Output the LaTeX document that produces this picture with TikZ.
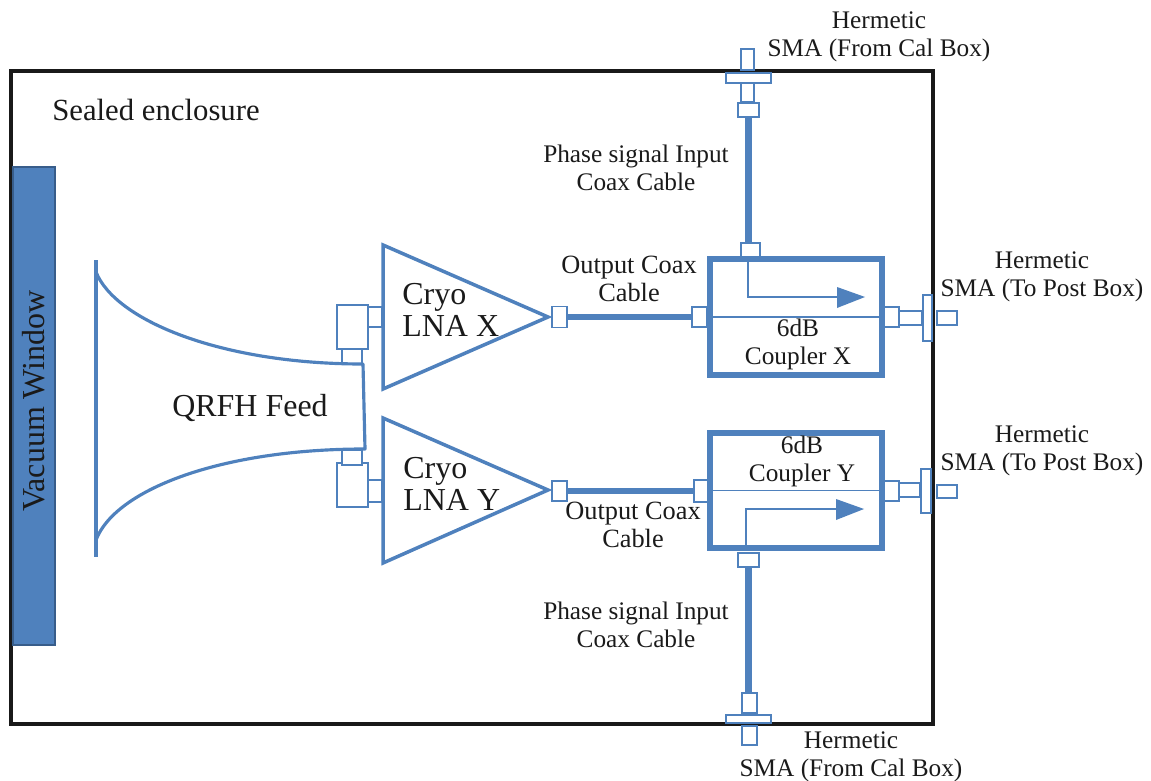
\documentclass[tikz,border=0pt]{standalone}
\usepackage{fontspec}
\setmainfont{Liberation Serif}
\definecolor{hornblue}{HTML}{4F81BD}
\definecolor{winedge}{HTML}{385D8A}
\definecolor{inktext}{HTML}{1A1A1A}
\tikzset{
  port/.style 2 args={draw=hornblue, line width=1.1pt, fill=white, inner sep=0pt,
    minimum width=#1*0.02cm, minimum height=#2*0.02cm},
  coax/.style={draw=hornblue, line width=3.9pt},
  small/.style={font=\fontsize{14.4}{15.9}\selectfont, text=inktext, align=center, inner sep=0pt},
  big/.style={font=\fontsize{18.2}{18.2}\selectfont, text=inktext, align=left, inner sep=0pt},
  coupler/.style={draw=hornblue, line width=3.2pt, fill=white, inner sep=0pt,
    minimum width=172*0.02cm},
  thin/.style={draw=hornblue, line width=1.1pt},
}
\begin{document}
\begin{tikzpicture}[x=0.02cm, y=-0.02cm]
  \useasboundingbox (0,0) rectangle (1151,780);
  % enclosure and window
  \draw[line width=2pt, black!90] (11,71) rectangle (933,724);
  \draw[draw=winedge, fill=hornblue, line width=0.6pt] (13,167) rectangle (55,645);
  \node[rotate=90, big] (window) at (34,401) {Vacuum Window};
  \node[font=\fontsize{17.5}{18}\selectfont, text=inktext, inner sep=0pt] (sealed) at (156,110) {Sealed enclosure};
  % feed to amplifier adapters
  \node[port={31}{44}] (elbowx) at (352.5,327) {};
  \node[port={14}{20}] (sidex) at (375,317) {};
  \node[port={20}{15}] (neckx) at (352,356.5) {};
  \node[port={31}{44}] (elbowy) at (352.5,485) {};
  \node[port={14}{22}] (sidey) at (375,491) {};
  \node[port={20}{15}] (necky) at (352,457.5) {};
  % feed
  \draw[hornblue, line width=1.8pt, line join=round] (96,260) -- (96,557);
  \draw[hornblue, line width=1.8pt, line join=round] (96,272) .. controls (115,320) and (220,364) .. (363,364)
    -- (365,449) .. controls (220,449) and (115,490) .. (96,540);
  \node[big] (feed) at (250,408) {QRFH Feed};
  % amplifiers
  \draw[hornblue, line width=2pt, line join=miter] (383,245) -- (548,317) -- (383,389) -- cycle;
  \draw[hornblue, line width=2pt, line join=miter] (383,418) -- (548,490) -- (383,563) -- cycle;
  \node[big, anchor=west] (lnax) at (402,310) {Cryo\\LNA X};
  \node[big, anchor=west] (lnay) at (403,484) {Cryo\\LNA Y};
  % couplers
  \node[coupler, minimum height=116*0.02cm] (couplerx) at (796,317) {};
  \node[coupler, minimum height=115*0.02cm] (couplery) at (796,490.5) {};
  \coordinate (armx) at (748,297);
  \coordinate (army) at (746,509);
  \coordinate (tipx) at (865,297);
  \coordinate (tipy) at (864,509);
  \draw[thin] (couplerx.west) -- (couplerx.east);
  \draw[thin] (couplery.west) -- (couplery.east);
  \draw[thin] (748,259) -- (armx) -- (840,297);
  \draw[thin] (746,548) -- (army) -- (840,509);
  \fill[hornblue] (837,287) -- (tipx) -- (837,308) -- cycle;
  \fill[hornblue] (836,499) -- (tipy) -- (836,520) -- cycle;
  \node[small] (labcx) at (798,344) {6dB\\Coupler X};
  \node[small] (labcy) at (802,461) {6dB\\Coupler Y};
  % output coax
  \node[port={15}{21}] (outx) at (559.5,317) {};
  \node[port={15}{20}] (inx) at (699.5,317) {};
  \node[port={15}{20}] (outy) at (559.5,491) {};
  \node[port={14}{22}] (iny) at (701,491) {};
  \draw[coax] (outx) -- (inx);
  \draw[coax] (outy) -- (iny);
  \node[small, font=\fontsize{15}{15.9}\selectfont] (labox) at (629,279) {Output Coax\\Cable};
  \node[small, font=\fontsize{15}{15.9}\selectfont] (laboy) at (633,525) {Output Coax\\Cable};
  % phase signal, top
  \node[port={13}{21}] (smatopa) at (747.5,59.5) {};
  \node[port={13}{19}] (smatopb) at (747.5,92.5) {};
  \node[port={45}{10}] (flangetop) at (748.5,78) {};
  \node[port={21}{14}] (smatopc) at (748.5,110) {};
  \node[port={19}{14}] (phasex) at (750.5,250) {};
  \draw[coax] (smatopc) -- (smatopc |- phasex.north);
  \node[small] (labpx) at (636,167.5) {Phase signal Input\\Coax Cable};
  \node[small] (labhx) at (879,36.5) {Hermetic\\SMA (From Cal Box)};
  % phase signal, bottom
  \node[port={21}{14}] (phasey) at (748.5,560) {};
  \node[port={15}{20}] (smabota) at (749.5,703) {};
  \node[port={45}{8}] (flangebot) at (748.5,719) {};
  \node[port={15}{19}] (smabotb) at (749.5,735.5) {};
  \draw[coax] (phasey) -- (phasey |- smabota.north);
  \node[small] (labpy) at (636,625) {Phase signal Input\\Coax Cable};
  \node[small] (labhy) at (851,757) {Hermetic\\SMA (From Cal Box)};
  % right hand outputs
  \node[port={15}{20}] (postxa) at (891.5,317) {};
  \node[port={23}{14}] (postxb) at (910.5,318) {};
  \node[port={9}{46}] (flangex) at (927.5,318) {};
  \node[port={20}{14}] (postxc) at (947,318) {};
  \node[port={15}{20}] (postya) at (891.5,491) {};
  \node[port={21}{14}] (postyb) at (909.5,490) {};
  \node[port={10}{44}] (flangey) at (926,491) {};
  \node[port={20}{13}] (postyc) at (947,491.5) {};
  \node[small] (labrx) at (1042,277) {Hermetic\\SMA (To Post Box)};
  \node[small] (labry) at (1042,450.5) {Hermetic\\SMA (To Post Box)};
\end{tikzpicture}
\end{document}
